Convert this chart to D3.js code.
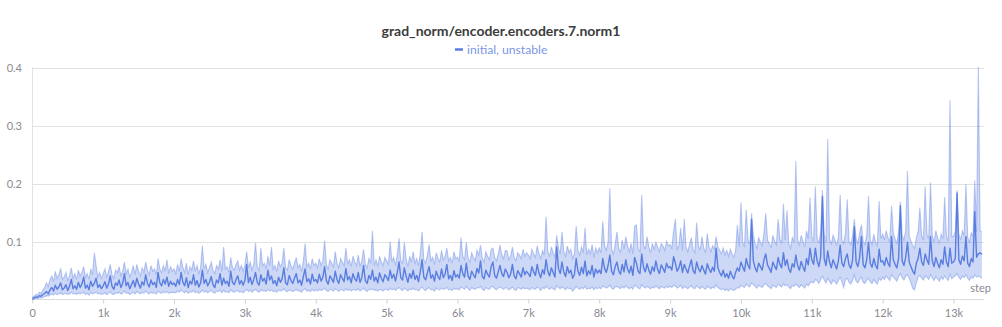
<!DOCTYPE html>
<html>
<head>
<meta charset="utf-8">
<script src="https://cdn.jsdelivr.net/npm/d3@7"></script>
<style>
  html, body { margin: 0; padding: 0; background: #fff; }
  svg { display: block; font-family: Lato, "Open Sans", sans-serif; }
</style>
</head>
<body>
<svg id="chart" width="1002" height="327"></svg>
<script>
const title = "grad_norm/encoder.encoders.7.norm1";
const seriesName = "initial, unstable";
const xTicks = [0,1000,2000,3000,4000,5000,6000,7000,8000,9000,10000,11000,12000,13000];
const xTickLabels = ["0","1k","2k","3k","4k","5k","6k","7k","8k","9k","10k","11k","12k","13k"];
const yTicks = [0.1,0.2,0.3,0.4];
const yTickLabels = ["0.1","0.2","0.3","0.4"];
const stepInterval = 25;

const meanValues = [
0.003,0.004,0.006,0.005,0.008,0.007,0.010,0.012,0.015,0.011,0.018,0.022,0.016,0.026,0.019,0.023,0.030,0.018,0.021,0.027,
0.017,0.024,0.036,0.020,0.025,0.019,0.031,0.022,0.028,0.040,0.021,0.026,0.018,0.033,0.024,0.029,0.038,0.022,0.027,0.020,
0.025,0.032,0.021,0.028,0.042,0.024,0.019,0.030,0.026,0.035,0.022,0.029,0.046,0.025,0.031,0.020,0.027,0.034,0.023,0.038,
0.028,0.021,0.032,0.026,0.044,0.029,0.023,0.035,0.027,0.031,0.022,0.048,0.030,0.025,0.036,0.028,0.040,0.024,0.033,0.027,
0.030,0.024,0.036,0.027,0.048,0.031,0.025,0.039,0.022,0.033,0.028,0.044,0.026,0.034,0.023,0.030,0.052,0.029,0.036,0.025,
0.031,0.041,0.027,0.022,0.035,0.030,0.046,0.026,0.038,0.029,0.033,0.024,0.050,0.031,0.027,0.036,0.042,0.028,0.034,0.026,
0.034,0.062,0.030,0.040,0.027,0.036,0.048,0.031,0.026,0.044,0.033,0.038,0.028,0.052,0.035,0.042,0.029,0.034,0.025,0.040,
0.031,0.037,0.056,0.030,0.027,0.043,0.034,0.029,0.038,0.046,0.030,0.035,0.026,0.041,0.054,0.032,0.037,0.028,0.045,0.033,
0.036,0.030,0.045,0.033,0.040,0.058,0.034,0.028,0.042,0.037,0.031,0.050,0.036,0.029,0.044,0.038,0.032,0.055,0.035,0.041,
0.030,0.046,0.037,0.033,0.048,0.031,0.039,0.060,0.034,0.029,0.043,0.036,0.052,0.033,0.040,0.030,0.047,0.038,0.032,0.044,
0.040,0.034,0.052,0.038,0.045,0.033,0.048,0.066,0.039,0.035,0.056,0.042,0.031,0.046,0.038,0.052,0.036,0.043,0.032,0.049,
0.070,0.040,0.035,0.047,0.058,0.038,0.044,0.033,0.050,0.041,0.036,0.054,0.039,0.045,0.062,0.037,0.043,0.034,0.051,0.040,
0.044,0.038,0.060,0.046,0.040,0.064,0.042,0.036,0.050,0.044,0.039,0.055,0.047,0.068,0.041,0.037,0.052,0.045,0.040,0.058,
0.066,0.043,0.038,0.049,0.060,0.046,0.041,0.054,0.048,0.039,0.045,0.062,0.042,0.037,0.051,0.046,0.040,0.056,0.044,0.050,
0.046,0.041,0.058,0.049,0.043,0.062,0.047,0.039,0.053,0.045,0.070,0.050,0.042,0.056,0.048,0.040,0.092,0.055,0.046,0.066,
0.049,0.041,0.058,0.047,0.052,0.038,0.044,0.072,0.050,0.043,0.057,0.046,0.068,0.042,0.051,0.045,0.060,0.040,0.054,0.047,
0.052,0.046,0.072,0.055,0.048,0.060,0.078,0.050,0.044,0.058,0.066,0.051,0.045,0.062,0.049,0.070,0.054,0.047,0.059,0.043,
0.074,0.064,0.050,0.046,0.080,0.057,0.049,0.063,0.052,0.045,0.058,0.050,0.068,0.053,0.046,0.061,0.055,0.048,0.064,0.056,
0.058,0.052,0.075,0.064,0.050,0.056,0.068,0.048,0.062,0.054,0.047,0.059,0.070,0.051,0.046,0.066,0.055,0.049,0.060,0.052,
0.045,0.063,0.054,0.048,0.057,0.050,0.090,0.056,0.048,0.042,0.052,0.040,0.046,0.038,0.050,0.042,0.037,0.048,0.056,0.050,
0.066,0.058,0.050,0.072,0.060,0.054,0.140,0.068,0.056,0.049,0.064,0.058,0.052,0.070,0.080,0.061,0.055,0.048,0.066,0.059,
0.053,0.074,0.062,0.056,0.082,0.060,0.070,0.054,0.048,0.063,0.057,0.078,0.060,0.052,0.067,0.058,0.050,0.072,0.061,0.090,
0.070,0.062,0.090,0.068,0.058,0.075,0.179,0.072,0.060,0.085,0.066,0.056,0.070,0.062,0.054,0.068,0.095,0.064,0.058,0.072,
0.080,0.061,0.055,0.069,0.127,0.066,0.058,0.074,0.110,0.062,0.056,0.070,0.100,0.064,0.057,0.072,0.060,0.054,0.088,0.066,
0.068,0.060,0.074,0.064,0.058,0.110,0.070,0.062,0.056,0.072,0.163,0.068,0.060,0.074,0.100,0.066,0.058,0.050,0.045,0.064,
0.072,0.090,0.066,0.060,0.080,0.070,0.062,0.110,0.068,0.058,0.074,0.064,0.056,0.070,0.062,0.092,0.066,0.058,0.090,0.064,
0.066,0.072,0.185,0.070,0.062,0.076,0.068,0.110,0.064,0.058,0.072,0.066,0.153,0.074,0.080,0.082,0.079
];
const maxValues = [
0.005,0.007,0.010,0.009,0.014,0.012,0.018,0.022,0.030,0.024,0.036,0.042,0.032,0.050,0.038,0.044,0.055,0.036,0.040,0.048,
0.034,0.042,0.056,0.038,0.046,0.036,0.052,0.042,0.048,0.058,0.040,0.046,0.036,0.054,0.044,0.082,0.060,0.040,0.048,0.038,
0.046,0.054,0.040,0.050,0.062,0.044,0.038,0.052,0.048,0.058,0.042,0.050,0.066,0.046,0.054,0.040,0.048,0.060,0.044,0.062,
0.050,0.042,0.056,0.048,0.066,0.052,0.044,0.060,0.050,0.054,0.044,0.072,0.054,0.048,0.060,0.050,0.070,0.046,0.058,0.050,
0.054,0.046,0.062,0.050,0.072,0.056,0.048,0.064,0.044,0.058,0.052,0.068,0.050,0.060,0.046,0.056,0.094,0.054,0.062,0.048,
0.056,0.066,0.052,0.046,0.060,0.054,0.070,0.050,0.092,0.054,0.058,0.048,0.074,0.056,0.052,0.062,0.068,0.052,0.060,0.050,
0.060,0.084,0.056,0.066,0.052,0.062,0.099,0.058,0.050,0.090,0.060,0.064,0.054,0.076,0.060,0.092,0.054,0.060,0.050,0.068,
0.058,0.064,0.090,0.056,0.052,0.070,0.060,0.054,0.064,0.074,0.056,0.062,0.050,0.068,0.098,0.058,0.064,0.054,0.072,0.060,
0.064,0.056,0.072,0.060,0.068,0.103,0.062,0.054,0.070,0.064,0.058,0.084,0.064,0.056,0.072,0.066,0.060,0.090,0.062,0.070,
0.058,0.076,0.066,0.060,0.078,0.058,0.068,0.088,0.062,0.056,0.072,0.064,0.120,0.060,0.070,0.058,0.076,0.066,0.060,0.074,
0.068,0.062,0.101,0.066,0.074,0.060,0.078,0.107,0.068,0.064,0.100,0.072,0.058,0.076,0.066,0.084,0.064,0.072,0.060,0.080,
0.118,0.070,0.064,0.078,0.096,0.068,0.074,0.062,0.082,0.072,0.066,0.086,0.070,0.076,0.090,0.068,0.074,0.064,0.084,0.072,
0.074,0.068,0.108,0.076,0.070,0.100,0.072,0.066,0.082,0.074,0.068,0.086,0.078,0.095,0.072,0.066,0.084,0.076,0.070,0.088,
0.090,0.074,0.068,0.080,0.095,0.078,0.072,0.086,0.085,0.070,0.076,0.092,0.074,0.068,0.082,0.078,0.072,0.088,0.076,0.082,
0.078,0.072,0.088,0.080,0.074,0.094,0.080,0.072,0.086,0.078,0.144,0.084,0.076,0.092,0.082,0.074,0.112,0.090,0.080,0.118,
0.084,0.076,0.094,0.082,0.088,0.072,0.080,0.128,0.086,0.078,0.092,0.082,0.125,0.078,0.088,0.080,0.096,0.074,0.090,0.082,
0.090,0.082,0.136,0.094,0.086,0.100,0.193,0.088,0.080,0.096,0.118,0.090,0.082,0.104,0.088,0.110,0.094,0.084,0.098,0.080,
0.128,0.130,0.088,0.084,0.182,0.096,0.088,0.110,0.092,0.082,0.098,0.088,0.100,0.092,0.084,0.098,0.094,0.086,0.102,0.094,
0.096,0.090,0.120,0.140,0.088,0.094,0.125,0.086,0.140,0.092,0.084,0.096,0.108,0.088,0.082,0.134,0.094,0.086,0.110,0.090,
0.082,0.115,0.092,0.084,0.094,0.088,0.110,0.092,0.086,0.080,0.090,0.078,0.086,0.076,0.088,0.080,0.074,0.086,0.130,0.092,
0.169,0.100,0.092,0.156,0.104,0.096,0.150,0.112,0.098,0.090,0.108,0.100,0.094,0.116,0.150,0.104,0.098,0.090,0.112,0.102,
0.096,0.140,0.106,0.098,0.167,0.104,0.155,0.098,0.090,0.108,0.100,0.240,0.104,0.094,0.112,0.102,0.092,0.120,0.106,0.177,
0.110,0.102,0.196,0.108,0.098,0.118,0.190,0.114,0.100,0.278,0.106,0.096,0.112,0.104,0.094,0.110,0.182,0.104,0.098,0.116,
0.174,0.102,0.096,0.110,0.140,0.106,0.098,0.116,0.130,0.102,0.096,0.112,0.180,0.104,0.096,0.114,0.100,0.094,0.171,0.106,
0.114,0.104,0.120,0.108,0.100,0.163,0.116,0.106,0.098,0.118,0.170,0.112,0.104,0.120,0.223,0.110,0.102,0.094,0.090,0.108,
0.118,0.160,0.112,0.104,0.196,0.114,0.106,0.203,0.112,0.100,0.120,0.108,0.098,0.114,0.106,0.178,0.110,0.102,0.345,0.110,
0.110,0.118,0.190,0.114,0.104,0.120,0.112,0.200,0.108,0.100,0.116,0.110,0.207,0.118,0.403,0.120,0.118
];
const minValues = [
0.001,0.002,0.003,0.003,0.004,0.004,0.005,0.006,0.008,0.007,0.009,0.011,0.009,0.012,0.010,0.011,0.013,0.010,0.011,0.012,
0.010,0.011,0.014,0.011,0.012,0.010,0.013,0.011,0.012,0.014,0.010,0.012,0.009,0.013,0.011,0.012,0.014,0.011,0.012,0.010,
0.011,0.013,0.010,0.012,0.015,0.011,0.010,0.013,0.012,0.014,0.011,0.012,0.016,0.012,0.013,0.010,0.012,0.014,0.011,0.015,
0.013,0.011,0.014,0.012,0.016,0.013,0.011,0.014,0.012,0.013,0.011,0.016,0.013,0.012,0.015,0.013,0.015,0.012,0.014,0.013,
0.014,0.013,0.016,0.014,0.018,0.015,0.013,0.016,0.012,0.015,0.014,0.017,0.013,0.015,0.012,0.014,0.018,0.014,0.016,0.013,
0.015,0.017,0.014,0.012,0.016,0.015,0.018,0.013,0.017,0.014,0.015,0.013,0.018,0.015,0.014,0.016,0.017,0.014,0.015,0.013,
0.016,0.019,0.015,0.018,0.014,0.017,0.019,0.016,0.014,0.018,0.016,0.017,0.015,0.019,0.016,0.018,0.015,0.016,0.014,0.018,
0.016,0.017,0.020,0.016,0.015,0.018,0.017,0.015,0.017,0.019,0.016,0.017,0.014,0.018,0.020,0.016,0.017,0.015,0.019,0.016,
0.018,0.016,0.019,0.017,0.018,0.021,0.017,0.015,0.019,0.018,0.016,0.020,0.018,0.015,0.019,0.018,0.016,0.020,0.017,0.019,
0.016,0.019,0.018,0.017,0.020,0.016,0.018,0.021,0.017,0.015,0.019,0.018,0.020,0.017,0.018,0.016,0.019,0.018,0.016,0.019,
0.019,0.017,0.021,0.018,0.020,0.017,0.020,0.022,0.019,0.017,0.021,0.019,0.016,0.020,0.018,0.021,0.018,0.019,0.016,0.020,
0.023,0.019,0.017,0.020,0.022,0.018,0.019,0.016,0.021,0.019,0.018,0.021,0.019,0.020,0.022,0.018,0.019,0.017,0.021,0.019,
0.020,0.018,0.023,0.021,0.019,0.024,0.020,0.017,0.022,0.020,0.019,0.022,0.021,0.024,0.019,0.017,0.022,0.020,0.019,0.023,
0.024,0.020,0.018,0.021,0.023,0.021,0.019,0.022,0.021,0.018,0.020,0.023,0.019,0.017,0.022,0.021,0.019,0.022,0.020,0.021,
0.020,0.018,0.022,0.020,0.019,0.023,0.021,0.017,0.022,0.020,0.024,0.021,0.019,0.022,0.020,0.018,0.025,0.022,0.020,0.023,
0.021,0.018,0.022,0.020,0.021,0.016,0.019,0.024,0.021,0.019,0.022,0.020,0.024,0.019,0.021,0.020,0.023,0.018,0.022,0.020,
0.022,0.020,0.025,0.023,0.021,0.023,0.026,0.021,0.019,0.023,0.024,0.022,0.020,0.024,0.021,0.025,0.022,0.020,0.023,0.019,
0.026,0.024,0.021,0.020,0.027,0.023,0.021,0.024,0.022,0.020,0.023,0.021,0.025,0.022,0.020,0.024,0.022,0.021,0.024,0.022,
0.024,0.022,0.026,0.025,0.021,0.023,0.026,0.020,0.024,0.022,0.020,0.023,0.025,0.021,0.020,0.025,0.022,0.020,0.024,0.021,
0.019,0.024,0.022,0.020,0.023,0.021,0.027,0.022,0.020,0.018,0.021,0.017,0.019,0.016,0.020,0.018,0.017,0.019,0.022,0.021,
0.026,0.024,0.022,0.028,0.025,0.023,0.030,0.027,0.024,0.021,0.026,0.024,0.022,0.027,0.029,0.025,0.023,0.020,0.026,0.024,
0.022,0.028,0.025,0.023,0.029,0.025,0.027,0.023,0.020,0.026,0.024,0.028,0.025,0.022,0.027,0.024,0.021,0.028,0.025,0.030,
0.032,0.030,0.036,0.034,0.029,0.036,0.042,0.035,0.030,0.038,0.033,0.028,0.035,0.032,0.028,0.034,0.040,0.032,0.022,0.036,
0.038,0.031,0.028,0.034,0.044,0.033,0.030,0.036,0.040,0.031,0.029,0.035,0.038,0.032,0.029,0.036,0.031,0.028,0.038,0.034,
0.040,0.036,0.042,0.038,0.034,0.044,0.040,0.037,0.033,0.041,0.046,0.039,0.035,0.042,0.044,0.038,0.030,0.020,0.018,0.030,
0.040,0.043,0.038,0.035,0.042,0.040,0.036,0.044,0.039,0.034,0.041,0.037,0.033,0.040,0.036,0.042,0.038,0.034,0.045,0.037,
0.040,0.042,0.046,0.040,0.036,0.042,0.039,0.044,0.038,0.034,0.040,0.038,0.044,0.040,0.042,0.040,0.038
];

const color = "#5a7ee0";
const svg = d3.select("#chart");
const plotLeft = 32.3, plotRight = 984, plotTop = 68.3, plotBottom = 300.3;
const x = d3.scaleLinear().domain([0, 13430]).range([plotLeft, plotRight]);
const y = d3.scaleLinear().domain([0, 0.4]).range([plotBottom, plotTop]);

const data = meanValues.map((v, i) => ({ step: i * stepInterval, mean: v, lo: minValues[i], hi: maxValues[i] }));

// grid
svg.append("g").selectAll("line").data(yTicks).join("line")
  .attr("x1", plotLeft).attr("x2", plotRight)
  .attr("y1", d => Math.round(y(d)) + 0.5).attr("y2", d => Math.round(y(d)) + 0.5)
  .attr("stroke", "#e2e2e2").attr("stroke-width", 1);

// left axis line
svg.append("line").attr("x1", Math.round(plotLeft) + 0.5).attr("x2", Math.round(plotLeft) + 0.5)
  .attr("y1", plotTop - 1).attr("y2", plotBottom).attr("stroke", "#e2e2e2");

// y labels
svg.append("g").selectAll("text").data(yTicks).join("text")
  .attr("x", 22).attr("y", d => y(d)).attr("dy", "0.35em")
  .attr("text-anchor", "end").attr("font-size", 11).attr("fill", "#8a8a94")
  .text((d, i) => yTickLabels[i]);

// x axis
const xAxis = d3.axisBottom(x).tickValues(xTicks).tickFormat((d, i) => xTickLabels[i]).tickSize(4).tickPadding(6);
const gx = svg.append("g").attr("transform", `translate(0,${Math.round(plotBottom) - 0.5})`).call(xAxis);
gx.select(".domain").attr("stroke", "#dcdcdc").attr("d", `M${plotLeft},0H${plotRight}`);
gx.selectAll(".tick line").attr("stroke", "#cfcfcf");
gx.selectAll(".tick text").attr("fill", "#8a8a94").attr("font-size", 11).attr("font-family", "Lato, 'Open Sans', sans-serif");

// band
const area = d3.area().x(d => x(d.step)).y0(d => y(d.lo)).y1(d => y(d.hi));
svg.append("path").datum(data).attr("d", area).attr("fill", color).attr("fill-opacity", 0.3);
svg.append("path").datum(data).attr("d", d3.line().x(d => x(d.step)).y(d => y(d.hi)))
  .attr("fill", "none").attr("stroke", color).attr("stroke-opacity", 0.4).attr("stroke-width", 1.1);
svg.append("path").datum(data).attr("d", d3.line().x(d => x(d.step)).y(d => y(d.lo)))
  .attr("fill", "none").attr("stroke", color).attr("stroke-opacity", 0.4).attr("stroke-width", 1.1);
svg.append("path").datum(data).attr("d", d3.line().x(d => x(d.step)).y(d => y(d.mean)))
  .attr("fill", "none").attr("stroke", color).attr("stroke-width", 1.4).attr("stroke-linejoin", "round");

// step label
svg.append("text").attr("x", 991).attr("y", 292).attr("text-anchor", "end")
  .attr("font-size", 11).attr("fill", "#8a8a94").text("step");

// title
svg.append("text").attr("x", 501).attr("y", 36).attr("text-anchor", "middle")
  .attr("font-size", 14).attr("font-weight", 700).attr("fill", "#3c3c3c").text(title);

// legend
const lg = svg.append("g");
lg.append("line").attr("x1", 455).attr("x2", 463).attr("y1", 49.5).attr("y2", 49.5)
  .attr("stroke", color).attr("stroke-width", 2.5);
lg.append("text").attr("x", 467).attr("y", 53.5).attr("font-size", 12.2).attr("fill", "#7b96e6").text(seriesName);
</script>
</body>
</html>
